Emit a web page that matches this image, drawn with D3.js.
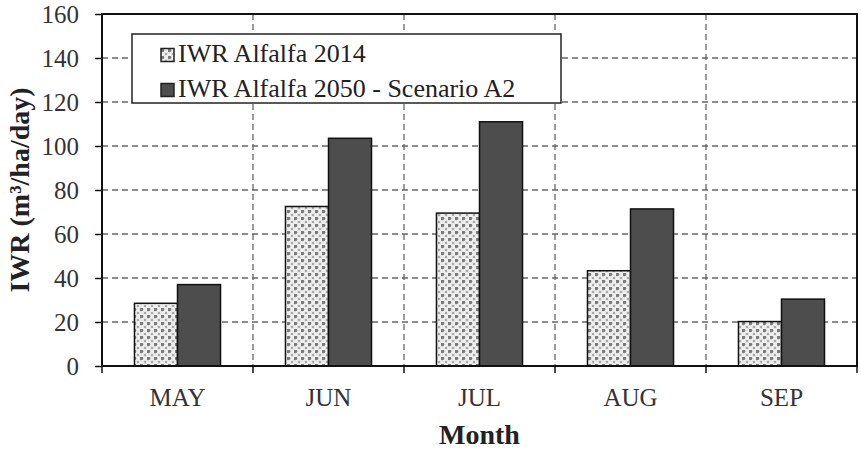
<!DOCTYPE html>
<html><head><meta charset="utf-8">
<script src="https://cdn.jsdelivr.net/npm/d3@7"></script>
<style>body{margin:0;background:#fff}svg{display:block}svg text{font-family:"Liberation Serif","Times New Roman",serif}</style>
</head><body>
<svg id="c" width="861" height="450"></svg>
<script>
const months = ["MAY","JUN","JUL","AUG","SEP"];
const series = ["IWR Alfalfa 2014","IWR Alfalfa 2050 - Scenario A2"];
const iwr2014 = [28.5, 72.5, 69.5, 43.3, 20.2];
const iwr2050 = [37, 103.5, 111, 71.4, 30.4];
const yTicks = [0,20,40,60,80,100,120,140,160];

const svg = d3.select("#c");
const m = {l:102, r:4, t:14, b:84};
const W = 861, H = 450;
const x = d3.scaleBand().domain(months).range([m.l, W-m.r]).paddingInner(0).paddingOuter(0);
const y = d3.scaleLinear().domain([0,160]).range([H-m.b, m.t]);
const sub = d3.scaleBand().domain(series).range([0, x.bandwidth()]).paddingInner(0).paddingOuter(0.755);

const defs = svg.append("defs");
const pat = defs.append("pattern").attr("id","dots").attr("patternUnits","userSpaceOnUse")
  .attr("width",7).attr("height",7);
pat.append("rect").attr("width",7).attr("height",7).attr("fill","#eeeeee");
pat.append("circle").attr("cx",1.5).attr("cy",1.5).attr("r",1.8).attr("fill","#7a7a7a");
pat.append("circle").attr("cx",5,).attr("cy",5).attr("r",1.3).attr("fill","#a8a8a8");

const font = "Liberation Serif";

// grid
svg.append("g").selectAll("line").data(yTicks.filter(d=>d>0 && d<160)).join("line")
  .attr("x1",m.l).attr("x2",W-m.r).attr("y1",d=>y(d)).attr("y2",d=>y(d))
  .attr("stroke","#666").attr("stroke-width",1.3).attr("stroke-dasharray","6,4");
svg.append("g").selectAll("line").data(months.slice(1)).join("line")
  .attr("x1",d=>x(d)).attr("x2",d=>x(d)).attr("y1",m.t).attr("y2",H-m.b)
  .attr("stroke","#666").attr("stroke-width",1.3).attr("stroke-dasharray","6,4");

// bars
const data = months.map((mo,i)=>({mo, vals:[iwr2014[i], iwr2050[i]]}));
const g = svg.append("g");
data.forEach(d=>{
  d.vals.forEach((v,j)=>{
    g.append("rect").attr("x", x(d.mo)+sub(series[j])).attr("y", y(v))
      .attr("width", sub.bandwidth()).attr("height", y(0)-y(v))
      .attr("fill", j===0 ? "url(#dots)" : "#4d4d4d")
      .attr("stroke","#111").attr("stroke-width",1.5);
  });
});

// frame
svg.append("rect").attr("x",m.l).attr("y",m.t).attr("width",W-m.r-m.l).attr("height",H-m.b-m.t)
  .attr("fill","none").attr("stroke","#111").attr("stroke-width",2);

// y axis
const ya = svg.append("g").attr("transform",`translate(${m.l},0)`)
  .call(d3.axisLeft(y).tickValues(yTicks).tickSize(7).tickPadding(16))
  .attr("font-family",font);
ya.select(".domain").remove();
ya.selectAll(".tick line").attr("stroke","#111").attr("stroke-width",1.5);
ya.selectAll("text").style("font-family",font).attr("font-size",25).attr("fill","#333").attr("dy","0.34em");

// x axis: ticks at band boundaries
const xa = svg.append("g").attr("transform",`translate(0,${H-m.b})`)
  .call(d3.axisBottom(x).tickSize(0).tickPadding(22))
  .attr("font-family",font);
xa.select(".domain").remove();
xa.selectAll("text").style("font-family",font).attr("font-size",25).attr("fill","#333");
svg.append("g").selectAll("line").data(months.concat(["end"])).join("line")
  .attr("x1",(d,i)=> i<months.length ? x(d) : W-m.r).attr("x2",(d,i)=> i<months.length ? x(d) : W-m.r)
  .attr("y1",H-m.b).attr("y2",H-m.b+7).attr("stroke","#111").attr("stroke-width",1.5);

// axis titles
svg.append("text").attr("x",(m.l+W-m.r)/2).attr("y",444).attr("text-anchor","middle")
  .style("font-family",font).attr("font-weight","bold").attr("font-size",28).attr("fill","#222").text("Month");
svg.append("text").attr("transform",`translate(29,${(m.t+H-m.b)/2}) rotate(-90)`).attr("text-anchor","middle")
  .style("font-family",font).attr("font-weight","bold").attr("font-size",28).attr("fill","#222").text("IWR (m³/ha/day)");

// legend
const lg = svg.append("g");
lg.append("rect").attr("x",132).attr("y",34).attr("width",429).attr("height",69)
  .attr("fill","#fff").attr("stroke","#222").attr("stroke-width",1.5);
series.forEach((s,i)=>{
  const base = 61.5 + i*35;
  lg.append("rect").attr("x",161).attr("y",base-13).attr("width",13).attr("height",13)
    .attr("fill", i===0 ? "url(#dots)" : "#4d4d4d").attr("stroke","#222").attr("stroke-width",1.5);
  lg.append("text").attr("x",178).attr("y",base).style("font-family",font).attr("font-size",26)
    .attr("fill","#222").text(s);
});
</script>
</body></html>
